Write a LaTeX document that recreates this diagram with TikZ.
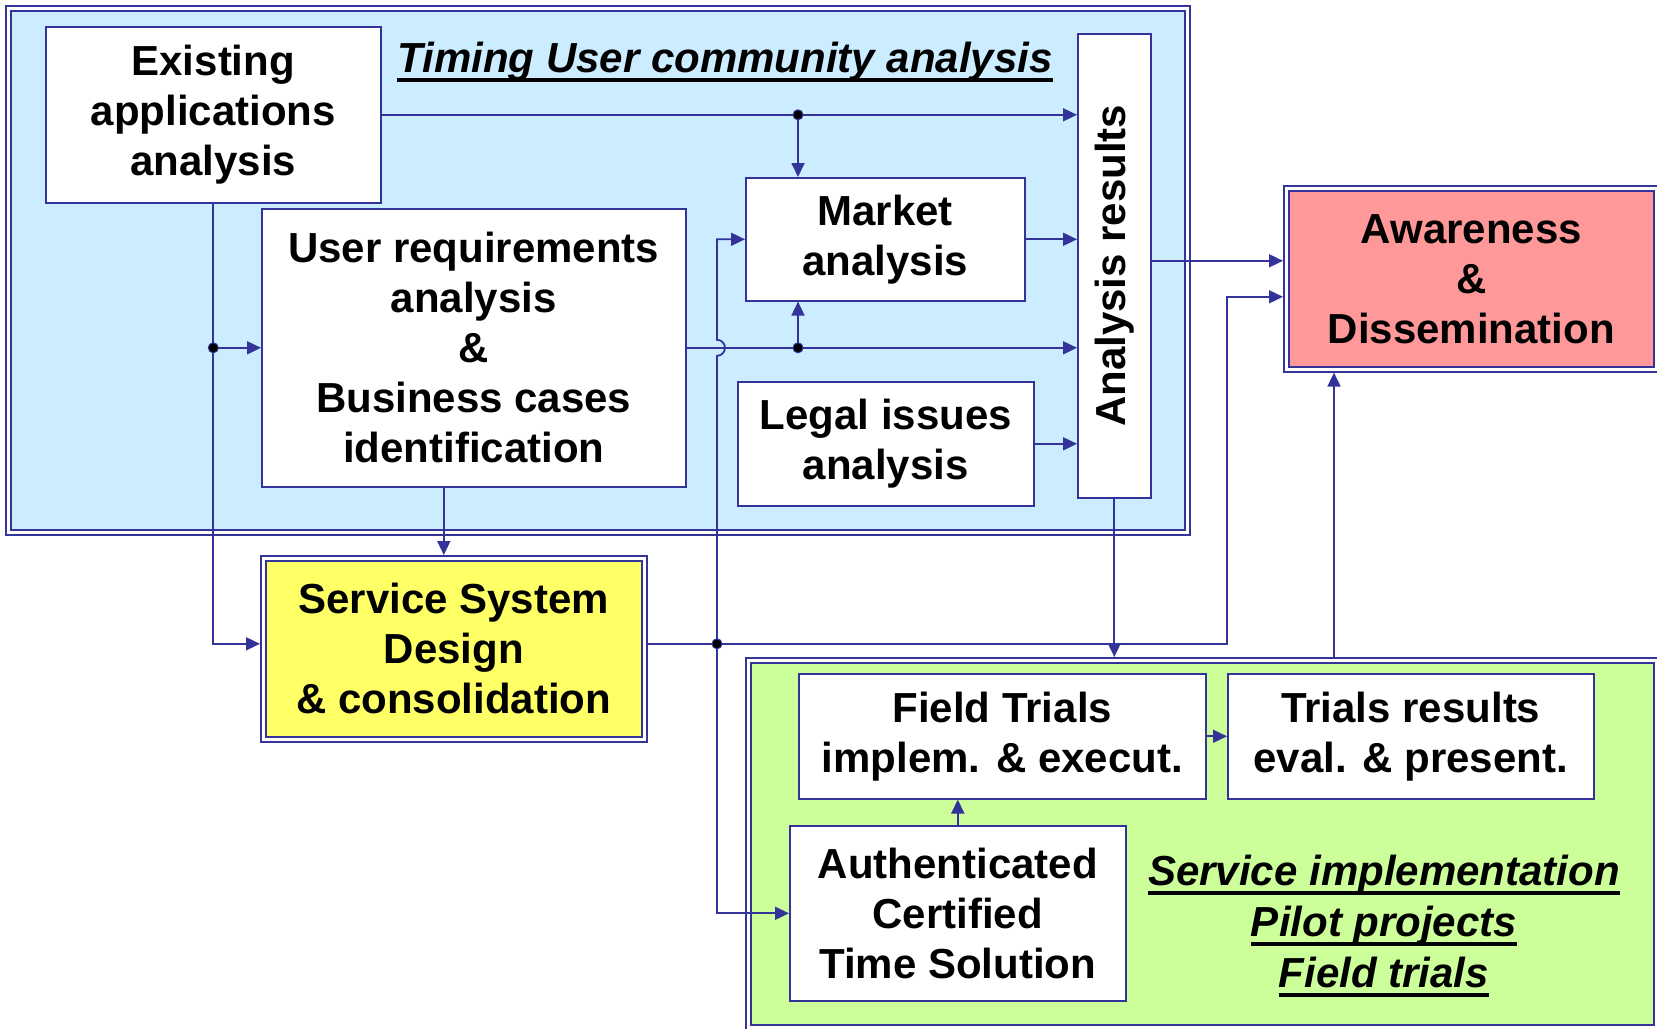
\documentclass[tikz,border=0pt]{standalone}
\usepackage{fontspec}
\setmainfont{Liberation Sans}
\usepackage{graphicx}
\usetikzlibrary{arrows.meta}
\definecolor{linkblue}{RGB}{51, 51, 153}
\definecolor{skyfill}{RGB}{204, 236, 255}
\definecolor{pinkfill}{RGB}{255, 153, 153}
\definecolor{yellowfill}{RGB}{255, 255, 102}
\definecolor{greenfill}{RGB}{204, 255, 153}
\newcommand{\bigtext}{\fontsize{42}{50}\selectfont\bfseries}
\newcommand{\ulline}[1]{\setbox0\hbox{#1}\rlap{\rule[-9.5pt]{\wd0}{4pt}}\box0}

\begin{document}
\begin{tikzpicture}[
    x=1pt, y=-1pt,
    box/.style={draw=linkblue, line width=1.6pt, fill=white, anchor=north west, inner sep=0pt, align=center, font=\bigtext},
    frame/.style={draw=linkblue, line width=1.8pt, double=white, double distance=3pt, anchor=north west, inner sep=0pt, outer sep=3.3pt, align=center, font=\bigtext},
    heading/.style={font=\bigtext\itshape, anchor=base},
    link/.style={draw=linkblue, line width=1.8pt},
    arr/.style={link, -{Triangle[length=14pt,width=13pt]}},
    dot/.style={fill=black, draw=linkblue, line width=1pt}
]
    \useasboundingbox (0,0) rectangle (1657,1028);

    % zones
    \node[frame, fill=skyfill, minimum width=1179pt, minimum height=524pt] (usrzone) at (5,5) {};
    \node[frame, fill=greenfill, minimum width=908pt, minimum height=367pt] (impl) at (745,657) {};
    \node[frame, fill=pinkfill, minimum width=370pt, minimum height=181pt] (aware) at (1283,185) {Awareness\\\&\\Dissemination};
    \node[frame, fill=yellowfill, minimum width=381pt, minimum height=181pt] (ssd) at (260,555) {Service System\\Design\\\& consolidation};

    \node[heading] (usrtitle) at (725,72) {\ulline{Timing User community analysis}};
    \node[heading] (impltitle) at (1384,885) {\ulline{Service implementation}};
    \node[heading] (pilottitle) at (1384,936) {\ulline{Pilot projects}};
    \node[heading] (trialtitle) at (1384,987) {\ulline{Field trials}};

    % analysis boxes
    \node[box, minimum width=335pt, minimum height=176pt] (exist) at (45,26) {Existing\\applications\\analysis};
    \node[box, minimum width=424pt, minimum height=278pt] (userreq) at (261,208) {User requirements\\analysis\\\&\\Business cases\\identification};
    \node[box, minimum width=279pt, minimum height=123pt] (market) at (745,177) {Market\\analysis};
    \node[box, minimum width=296pt, minimum height=124pt] (legal) at (737,381) {Legal issues\\analysis};
    \node[box, minimum width=73pt, minimum height=464pt] (results) at (1077,33) {\rotatebox{90}{Analysis results}};

    % pilot boxes
    \node[box, minimum width=407pt, minimum height=125pt] (field) at (798,673) {Field Trials\\implem. \& execut.};
    \node[box, minimum width=366pt, minimum height=125pt] (trialsres) at (1227,673) {Trials results\\eval. \& present.};
    \node[box, minimum width=336pt, minimum height=175pt] (auth) at (789,825) {Authenticated\\Certified\\Time Solution};

    \coordinate (j0) at (exist.south |- userreq.west);
    \coordinate (j1) at (798,0 |- exist.east);
    \coordinate (j2) at (798,0 |- userreq.east);
    \coordinate (sout) at ([yshift=5pt]ssd.east);
    \coordinate (j3) at (717,0 |- sout);
    \coordinate (hop) at (j3 |- j2);
    \coordinate (a1) at ([yshift=18pt]aware.west);
    \coordinate (a2) at ([yshift=-18pt]aware.west);

    % into the analysis results
    \draw[arr] (exist.east) -- (exist.east -| results.west);
    \draw[arr] (j1) -- (j1 |- market.north);
    \draw[arr] (userreq.east) -- (userreq.east -| results.west);
    \draw[arr] (j2) -- (j2 |- market.south);
    \draw[arr] (market.east) -- (market.east -| results.west);
    \draw[arr] (legal.east) -- (legal.east -| results.west);

    \draw[arr] (exist.south) |- ([yshift=5pt]ssd.west);
    \draw[arr] (j0) -- (userreq.west);
    \draw[arr] ([xshift=-10pt]ssd.north |- userreq.south) -- ([xshift=-10pt]ssd.north);

    % design output
    \draw[arr] (sout) -- (1227,0 |- sout) |- (a2);
    \draw[arr] (j3) |- (auth.west);
    \draw[arr] (j3) -- ([yshift=-8pt]hop) arc[start angle=-90, end angle=90, radius=8pt] |- (market.west);

    \draw[arr] (a1 -| results.east) -- (a1);
    \draw[arr] (results.south) -- (results.south |- impl.north);
    \draw[arr] (impl.north -| 1334,0) -- (1334,0 |- aware.south);
    \draw[arr] (auth.north) -- (auth.north |- field.south);
    \draw[arr] (field.east) -- (trialsres.west);

    \foreach \j in {j0,j1,j2,j3}
        \fill[dot] (\j) circle (5pt);
\end{tikzpicture}
\end{document}
